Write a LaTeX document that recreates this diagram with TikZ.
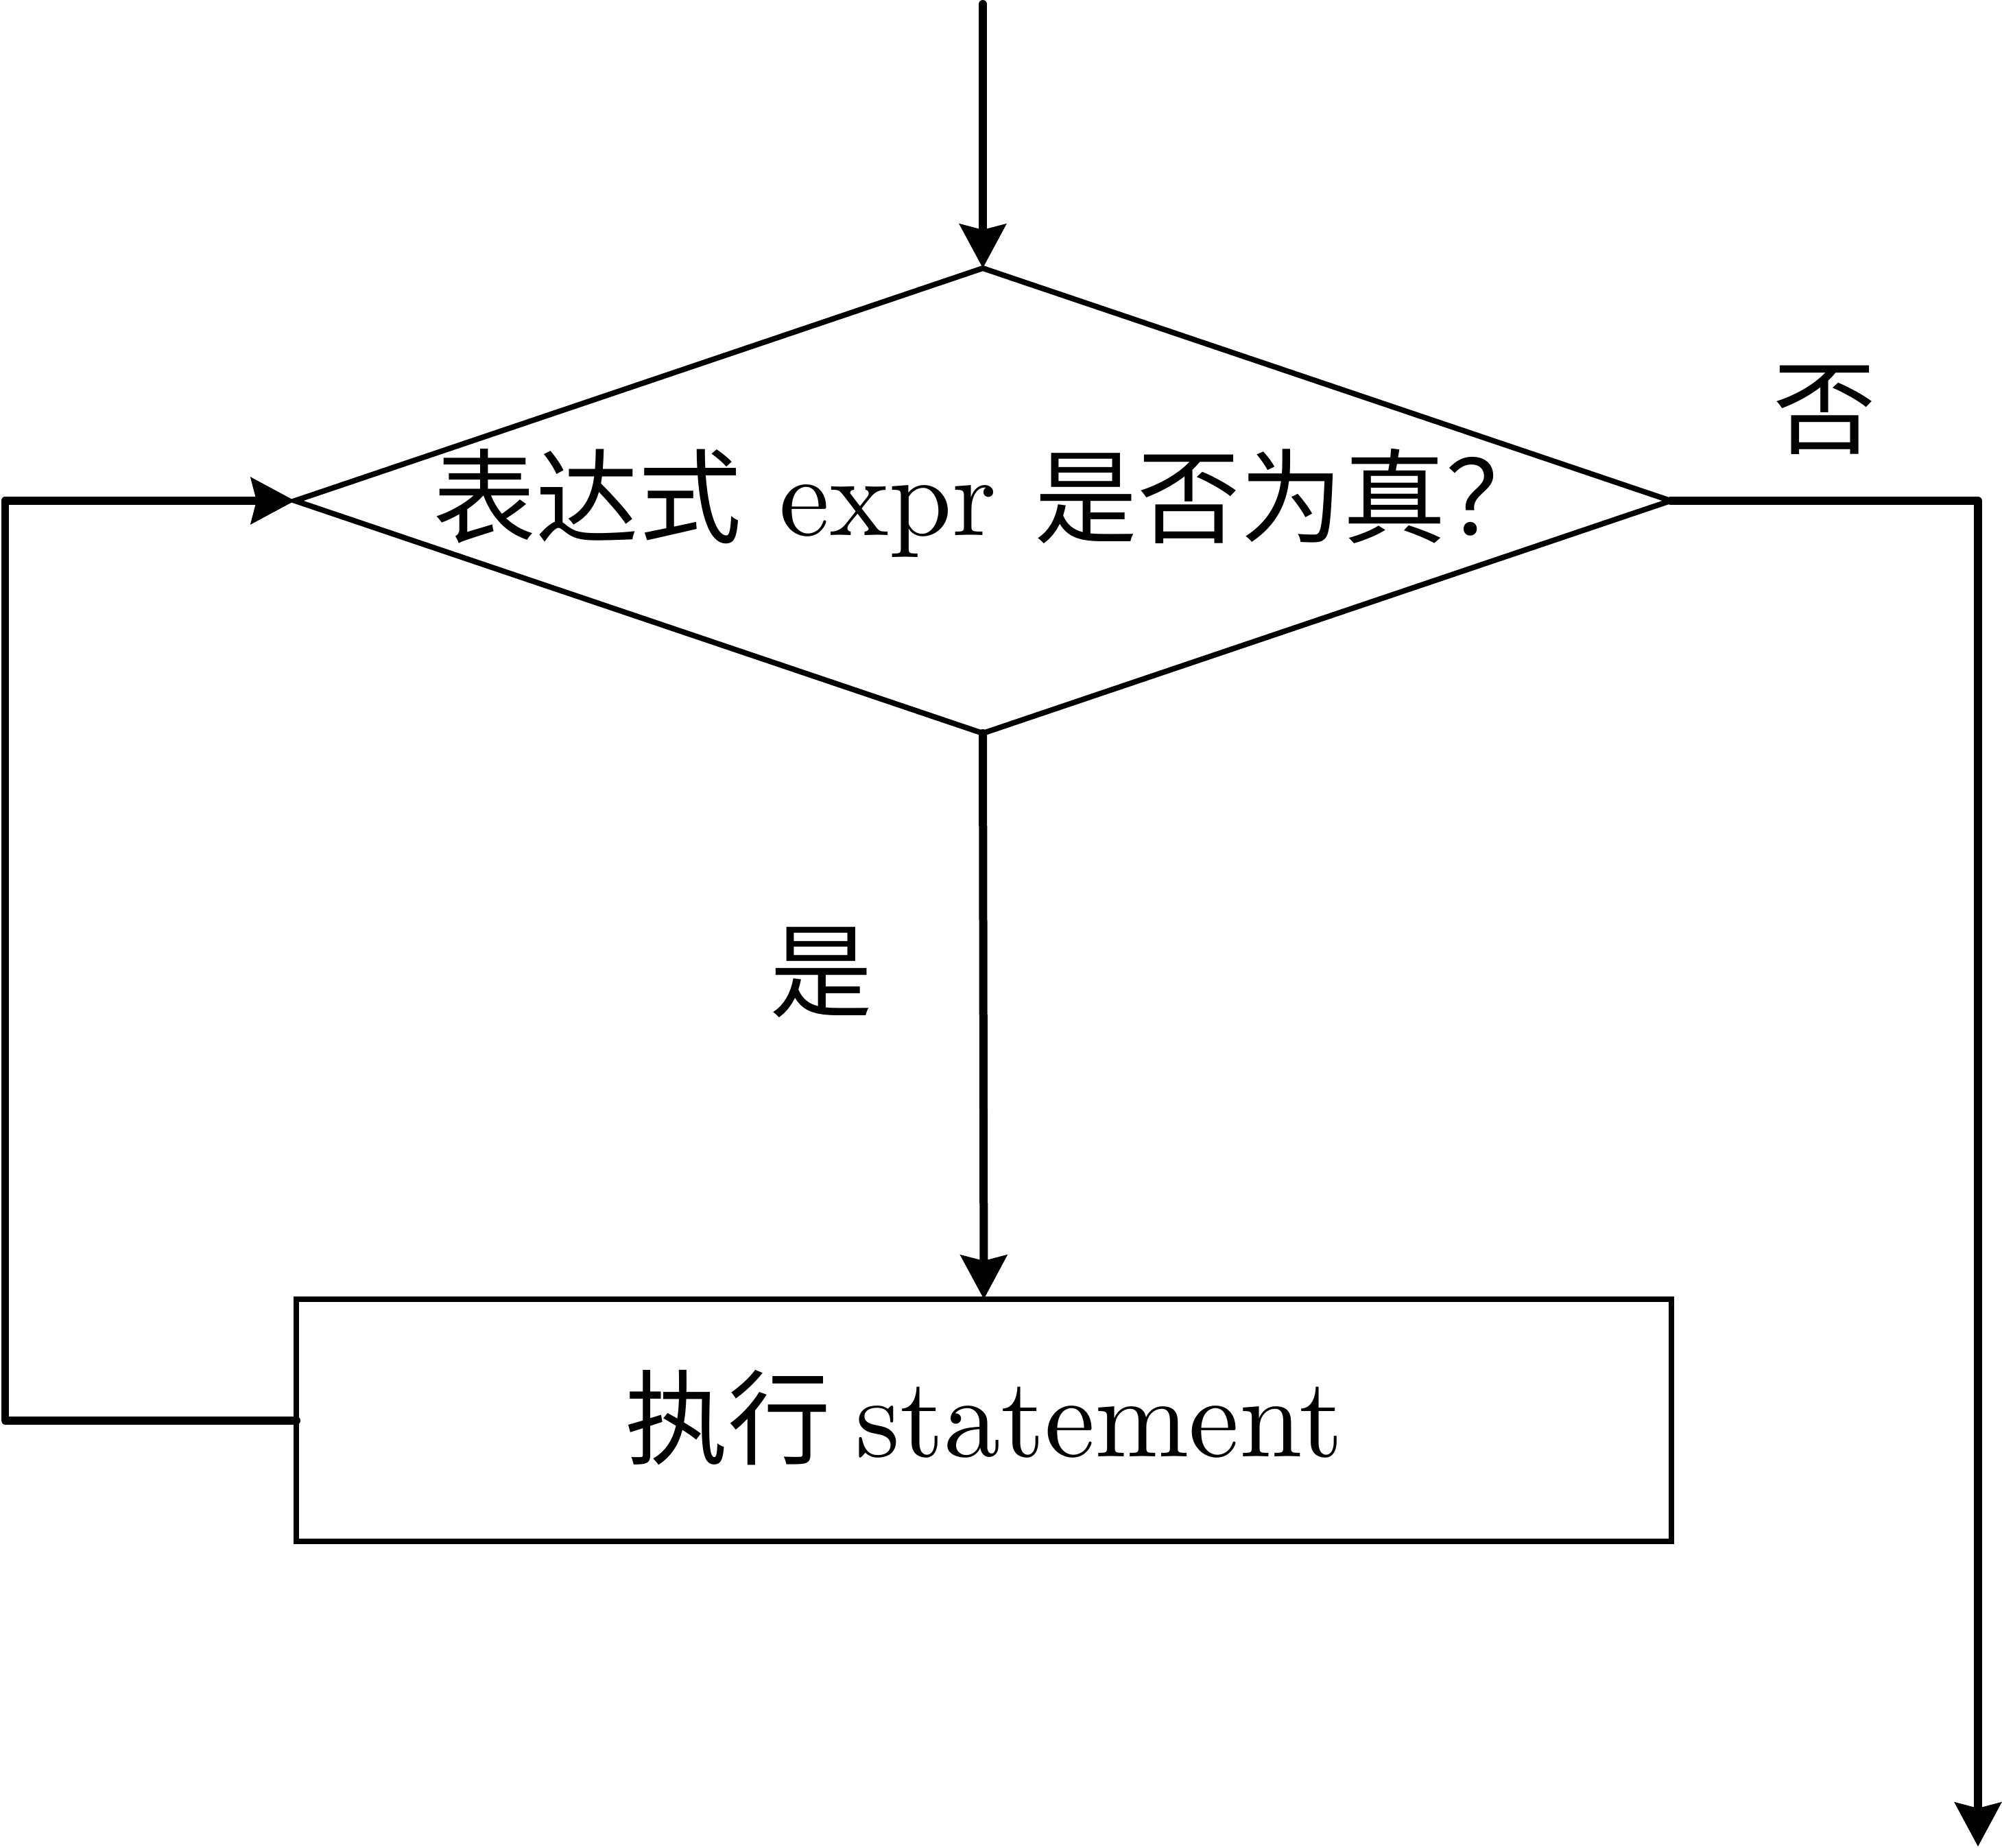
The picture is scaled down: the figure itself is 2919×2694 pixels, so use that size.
\documentclass[tikz,border=0pt]{standalone}
\usepackage{fontspec}
\setmainfont{lmroman10-regular}[Extension=.otf]
\newfontfamily\cjk{Noto Sans CJK SC}
\usetikzlibrary{shapes.geometric,arrows.meta}
\begin{document}
\begin{tikzpicture}[x=0.1pt,y=-0.1pt,
  thinline/.style={draw=black,line width=0.8pt},
  flow/.style={draw=black,line width=1.2pt,line join=round,line cap=round},
  arr/.style={flow,-{Stealth[length=6.4pt,width=6.7pt,inset=0.8pt]}},
  lbl/.style={font=\fontsize{16.5pt}{20pt}\selectfont,inner sep=0pt},
  cjkl/.style={font=\fontsize{15pt}{18pt}\selectfont\cjk,inner sep=0pt}]
\useasboundingbox (0,0) rectangle (2919,2694);
% decision
\node[diamond,thinline,outer sep=0pt,inner sep=0pt,
      minimum width=200.6pt,minimum height=67.8pt] (d) at (1433,730) {};
\node[lbl,anchor=center] (dtext) at (1445,733)
  {{\fontsize{15pt}{18pt}\selectfont\cjk 表达式} expr {\fontsize{15pt}{18pt}\selectfont\cjk 是否为真？}};
% process box
\node[rectangle,thinline,outer sep=0pt,
      minimum width=200.5pt,minimum height=35.3pt] (r) at (1434.5,2070.5) {};
\node[lbl,anchor=center] (rtext) at (1435,2067)
  {{\fontsize{15pt}{18pt}\selectfont\cjk 执行}\hspace{3.6pt}statement};
% labels
\node[cjkl] (yes) at (1197,1418) {是};
\node[cjkl] (no) at (2660,598) {否};
% coordinates
\coordinate (start) at (1433,6);
\coordinate (rc) at (2884,730);
\coordinate (endp) at (2884,2692);
\coordinate (lc1) at (7.5,2070.5);
\coordinate (lc2) at (7.5,730);
% connectors
\draw[arr] (start) -- (d.north);
\draw[arr] (d.south) -- (r.north);
\draw[arr] (d.east) -- (rc) -- (endp);
\draw[arr] (r.west) -- (lc1) -- (lc2) -- (d.west);
\end{tikzpicture}
\end{document}
